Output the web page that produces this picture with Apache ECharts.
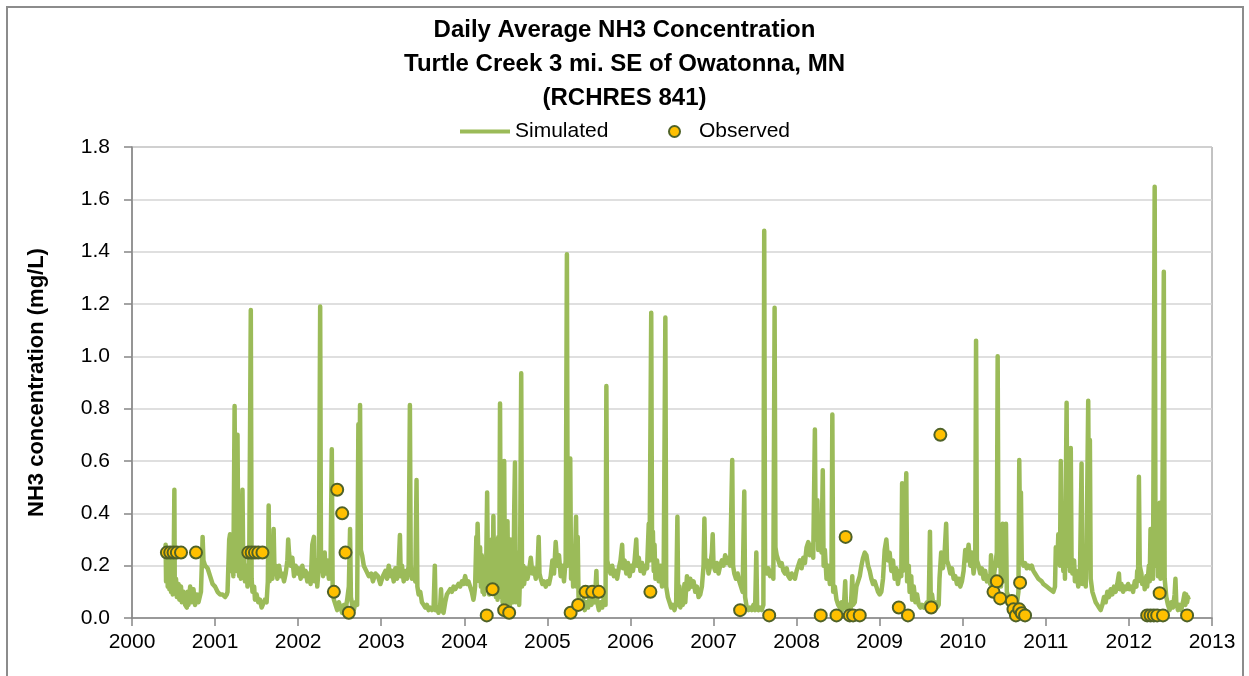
<!DOCTYPE html>
<html>
<head>
<meta charset="utf-8">
<script src="https://cdn.jsdelivr.net/npm/echarts@6/dist/echarts.min.js"></script>
<style>
  html, body { margin: 0; padding: 0; background: #ffffff; }
  #chart { width: 1249px; height: 676px; }
</style>
</head>
<body>
<div id="chart"></div>
<script>
// Simulated daily NH3 (mg/L), as [decimal year, value] pairs, grouped by period
const sim2000 = [[2000.40,0.25],[2000.405,0.28],[2000.41,0.14],[2000.42,0.26],[2000.43,0.12],[2000.44,0.25],[2000.45,0.11],[2000.46,0.22],[2000.47,0.10],[2000.48,0.18],[2000.49,0.09],[2000.50,0.14],[2000.51,0.49],[2000.515,0.10],[2000.53,0.15],[2000.54,0.08],[2000.56,0.13],[2000.57,0.07],[2000.59,0.12],[2000.60,0.06],[2000.62,0.10],[2000.64,0.05],[2000.66,0.04],[2000.67,0.10],[2000.68,0.05],[2000.70,0.12],[2000.72,0.06],[2000.74,0.11],[2000.76,0.05],[2000.78,0.09],[2000.80,0.06],[2000.83,0.10],[2000.845,0.25],[2000.85,0.31],[2000.86,0.22],[2000.88,0.20],[2000.91,0.19],[2000.94,0.16],[2000.97,0.13],[2001.00,0.12],[2001.03,0.10],[2001.06,0.09],[2001.09,0.09],[2001.12,0.08],[2001.14,0.09]];
const sim2001 = [[2001.15,0.10],[2001.17,0.30],[2001.18,0.32],[2001.19,0.18],[2001.21,0.26],[2001.22,0.16],[2001.235,0.81],[2001.245,0.25],[2001.26,0.18],[2001.27,0.70],[2001.28,0.22],[2001.29,0.16],[2001.30,0.26],[2001.31,0.15],[2001.33,0.49],[2001.34,0.18],[2001.35,0.24],[2001.36,0.14],[2001.38,0.20],[2001.39,0.12],[2001.41,0.16],[2001.43,1.177],[2001.44,0.15],[2001.45,0.10],[2001.47,0.12],[2001.48,0.07],[2001.50,0.09],[2001.52,0.06],[2001.54,0.07],[2001.56,0.04],[2001.58,0.04],[2001.60,0.07],[2001.62,0.06],[2001.635,0.14],[2001.645,0.43],[2001.655,0.14],[2001.67,0.22],[2001.69,0.15],[2001.705,0.34],[2001.715,0.18],[2001.73,0.20],[2001.75,0.15],[2001.77,0.20],[2001.79,0.16],[2001.81,0.17],[2001.83,0.14],[2001.85,0.17],[2001.87,0.22],[2001.88,0.30],[2001.89,0.25],[2001.91,0.20],[2001.93,0.23],[2001.95,0.16],[2001.97,0.20],[2001.99,0.17],[2002.01,0.19],[2002.03,0.15],[2002.05,0.20],[2002.07,0.16],[2002.09,0.18],[2002.11,0.14],[2002.13,0.17],[2002.15,0.13],[2002.17,0.28]];
const sim2002 = [[2002.19,0.31],[2002.20,0.14],[2002.22,0.22],[2002.23,0.12],[2002.25,0.20],[2002.265,1.19],[2002.275,0.18],[2002.29,0.24],[2002.30,0.16],[2002.32,0.25],[2002.33,0.17],[2002.35,0.22],[2002.37,0.15],[2002.39,0.20],[2002.405,0.645],[2002.415,0.12],[2002.43,0.07],[2002.45,0.05],[2002.47,0.03],[2002.49,0.06],[2002.51,0.04],[2002.53,0.02],[2002.55,0.05],[2002.57,0.03],[2002.59,0.07],[2002.61,0.12],[2002.625,0.34],[2002.635,0.08],[2002.65,0.05],[2002.67,0.03],[2002.69,0.06],[2002.71,0.05],[2002.725,0.74],[2002.735,0.30],[2002.745,0.814],[2002.755,0.26],[2002.77,0.24],[2002.79,0.20],[2002.82,0.18],[2002.85,0.16],[2002.88,0.17],[2002.90,0.14],[2002.93,0.17],[2002.96,0.16],[2002.99,0.13],[2003.02,0.16],[2003.05,0.18],[2003.07,0.15],[2003.09,0.20],[2003.11,0.16],[2003.13,0.18],[2003.15,0.14],[2003.17,0.19],[2003.19,0.15]];
const sim2003 = [[2003.21,0.20],[2003.225,0.317],[2003.235,0.16],[2003.25,0.20],[2003.27,0.14],[2003.29,0.18],[2003.31,0.15],[2003.33,0.20],[2003.345,0.814],[2003.355,0.20],[2003.37,0.15],[2003.39,0.18],[2003.41,0.14],[2003.425,0.527],[2003.435,0.12],[2003.45,0.09],[2003.47,0.10],[2003.49,0.06],[2003.51,0.05],[2003.53,0.04],[2003.55,0.05],[2003.57,0.03],[2003.59,0.04],[2003.61,0.03],[2003.63,0.04],[2003.645,0.20],[2003.655,0.03],[2003.67,0.04],[2003.69,0.02],[2003.71,0.05],[2003.72,0.11],[2003.73,0.03],[2003.75,0.02],[2003.77,0.06],[2003.79,0.09],[2003.81,0.10],[2003.83,0.11],[2003.85,0.10],[2003.87,0.12],[2003.89,0.11],[2003.91,0.12],[2003.93,0.13],[2003.95,0.12],[2003.97,0.14],[2003.99,0.13],[2004.01,0.16],[2004.03,0.13],[2004.05,0.14],[2004.07,0.12],[2004.09,0.10],[2004.11,0.07],[2004.12,0.09]];
const sim2004 = [[2004.13,0.12],[2004.145,0.31],[2004.15,0.20],[2004.16,0.36],[2004.17,0.22],[2004.18,0.14],[2004.19,0.27],[2004.20,0.12],[2004.21,0.24],[2004.22,0.10],[2004.23,0.22],[2004.24,0.09],[2004.25,0.20],[2004.26,0.12],[2004.275,0.48],[2004.285,0.14],[2004.29,0.26],[2004.30,0.09],[2004.31,0.22],[2004.32,0.10],[2004.33,0.30],[2004.34,0.12],[2004.35,0.39],[2004.36,0.10],[2004.37,0.30],[2004.38,0.08],[2004.39,0.24],[2004.40,0.07],[2004.41,0.31],[2004.42,0.08],[2004.43,0.82],[2004.44,0.10],[2004.45,0.30],[2004.46,0.06],[2004.47,0.40],[2004.48,0.60],[2004.49,0.08],[2004.50,0.30],[2004.51,0.06],[2004.52,0.37],[2004.53,0.07],[2004.54,0.25],[2004.55,0.05],[2004.56,0.30],[2004.57,0.06],[2004.58,0.20],[2004.59,0.06],[2004.60,0.40],[2004.61,0.594],[2004.62,0.06],[2004.63,0.20],[2004.64,0.07],[2004.65,0.25],[2004.66,0.05],[2004.67,0.15],[2004.685,0.935],[2004.695,0.12],[2004.71,0.20],[2004.72,0.13],[2004.74,0.19],[2004.76,0.15],[2004.78,0.18],[2004.80,0.23],[2004.82,0.17],[2004.84,0.19],[2004.86,0.15],[2004.88,0.18],[2004.895,0.31],[2004.905,0.17],[2004.92,0.15],[2004.94,0.13],[2004.96,0.14],[2004.98,0.12],[2005.00,0.14],[2005.02,0.13],[2005.04,0.16],[2005.06,0.22],[2005.08,0.17],[2005.10,0.29],[2005.12,0.20],[2005.14,0.24],[2005.16,0.16],[2005.18,0.20],[2005.20,0.14],[2005.22,0.22]];
const sim2005 = [[2005.235,1.39],[2005.245,0.20],[2005.26,0.28],[2005.275,0.61],[2005.285,0.15],[2005.30,0.22],[2005.31,0.12],[2005.33,0.20],[2005.345,0.387],[2005.355,0.12],[2005.365,0.31],[2005.375,0.08],[2005.39,0.06],[2005.41,0.04],[2005.43,0.07],[2005.45,0.03],[2005.47,0.06],[2005.49,0.04],[2005.51,0.08],[2005.53,0.05],[2005.55,0.07],[2005.57,0.06],[2005.59,0.18],[2005.60,0.06],[2005.62,0.03],[2005.64,0.06],[2005.66,0.04],[2005.68,0.08],[2005.70,0.05],[2005.71,0.887],[2005.72,0.22],[2005.74,0.19],[2005.76,0.17],[2005.78,0.20],[2005.80,0.16],[2005.82,0.18],[2005.84,0.15],[2005.86,0.19],[2005.88,0.22],[2005.90,0.28],[2005.91,0.19],[2005.93,0.22],[2005.95,0.17],[2005.97,0.21],[2005.99,0.16],[2006.01,0.20],[2006.03,0.18],[2006.05,0.22],[2006.07,0.30],[2006.08,0.20],[2006.10,0.23],[2006.12,0.18],[2006.14,0.21],[2006.16,0.17],[2006.18,0.20],[2006.20,0.19],[2006.22,0.36],[2006.23,0.22]];
const sim2006 = [[2006.25,1.167],[2006.26,0.25],[2006.27,0.33],[2006.28,0.18],[2006.29,0.28],[2006.30,0.15],[2006.32,0.22],[2006.34,0.14],[2006.36,0.20],[2006.38,0.12],[2006.40,0.18],[2006.42,1.148],[2006.43,0.12],[2006.45,0.08],[2006.47,0.06],[2006.49,0.04],[2006.51,0.05],[2006.53,0.03],[2006.55,0.06],[2006.565,0.387],[2006.575,0.05],[2006.59,0.12],[2006.60,0.04],[2006.62,0.10],[2006.63,0.05],[2006.65,0.13],[2006.66,0.06],[2006.68,0.16],[2006.70,0.11],[2006.72,0.15],[2006.74,0.12],[2006.76,0.14],[2006.78,0.10],[2006.80,0.12],[2006.82,0.08],[2006.84,0.09],[2006.86,0.12],[2006.88,0.20],[2006.89,0.38],[2006.90,0.20],[2006.92,0.22],[2006.94,0.17],[2006.96,0.20],[2006.98,0.25],[2006.99,0.32],[2007.00,0.20],[2007.02,0.18],[2007.04,0.21],[2007.06,0.17],[2007.08,0.20],[2007.10,0.22],[2007.12,0.20],[2007.14,0.24],[2007.16,0.21],[2007.18,0.23],[2007.20,0.20]];
const sim2007 = [[2007.225,0.604],[2007.235,0.20],[2007.25,0.17],[2007.27,0.15],[2007.29,0.17],[2007.31,0.14],[2007.33,0.12],[2007.35,0.10],[2007.37,0.483],[2007.38,0.08],[2007.40,0.04],[2007.42,0.03],[2007.44,0.04],[2007.46,0.03],[2007.48,0.05],[2007.50,0.03],[2007.515,0.25],[2007.525,0.04],[2007.54,0.03],[2007.56,0.04],[2007.58,0.03],[2007.60,0.05],[2007.61,1.48],[2007.62,0.20],[2007.64,0.17],[2007.66,0.19],[2007.68,0.16],[2007.70,0.18],[2007.72,0.15],[2007.735,1.186],[2007.745,0.27],[2007.76,0.24],[2007.78,0.22],[2007.80,0.20],[2007.82,0.21],[2007.84,0.18],[2007.86,0.17],[2007.88,0.19],[2007.90,0.16],[2007.92,0.15],[2007.94,0.17],[2007.96,0.16],[2007.98,0.15],[2008.00,0.18],[2008.02,0.20],[2008.04,0.22],[2008.06,0.19],[2008.08,0.23],[2008.10,0.21],[2008.12,0.27],[2008.14,0.29],[2008.16,0.24],[2008.18,0.28],[2008.20,0.23]];
const sim2008 = [[2008.22,0.72],[2008.23,0.30],[2008.25,0.45],[2008.26,0.26],[2008.28,0.30],[2008.30,0.25],[2008.315,0.565],[2008.325,0.20],[2008.34,0.26],[2008.36,0.15],[2008.38,0.20],[2008.40,0.13],[2008.42,0.18],[2008.43,0.778],[2008.44,0.10],[2008.46,0.12],[2008.48,0.07],[2008.50,0.05],[2008.52,0.04],[2008.54,0.06],[2008.55,0.03],[2008.57,0.05],[2008.585,0.14],[2008.595,0.04],[2008.61,0.03],[2008.63,0.05],[2008.65,0.03],[2008.66,0.09],[2008.67,0.16],[2008.68,0.05],[2008.70,0.06],[2008.72,0.12],[2008.74,0.14],[2008.76,0.16],[2008.78,0.20],[2008.80,0.23],[2008.82,0.25],[2008.84,0.24],[2008.86,0.20],[2008.88,0.18],[2008.90,0.15],[2008.92,0.13],[2008.94,0.14],[2008.96,0.12],[2008.98,0.10],[2009.00,0.09],[2009.02,0.10],[2009.04,0.15],[2009.06,0.26],[2009.08,0.30],[2009.10,0.22],[2009.12,0.25],[2009.14,0.18],[2009.16,0.22],[2009.18,0.15],[2009.20,0.19],[2009.22,0.13],[2009.24,0.18],[2009.26,0.16]];
const sim2009 = [[2009.27,0.515],[2009.28,0.18],[2009.30,0.25],[2009.32,0.553],[2009.33,0.14],[2009.35,0.20],[2009.36,0.10],[2009.38,0.16],[2009.39,0.07],[2009.41,0.12],[2009.43,0.06],[2009.45,0.09],[2009.47,0.05],[2009.49,0.04],[2009.51,0.05],[2009.53,0.04],[2009.55,0.04],[2009.57,0.06],[2009.59,0.05],[2009.605,0.33],[2009.615,0.06],[2009.63,0.09],[2009.65,0.04],[2009.67,0.06],[2009.69,0.04],[2009.71,0.05],[2009.72,0.15],[2009.74,0.25],[2009.76,0.19],[2009.78,0.24],[2009.80,0.36],[2009.81,0.22],[2009.83,0.20],[2009.85,0.17],[2009.87,0.19],[2009.89,0.15],[2009.91,0.16],[2009.93,0.13],[2009.95,0.15],[2009.97,0.12],[2009.99,0.14],[2010.01,0.18],[2010.03,0.26],[2010.05,0.22],[2010.07,0.28],[2010.09,0.20],[2010.11,0.25],[2010.13,0.17],[2010.15,0.22]];
const sim2010 = [[2010.16,1.06],[2010.17,0.22],[2010.19,0.20],[2010.21,0.17],[2010.23,0.19],[2010.25,0.15],[2010.27,0.18],[2010.29,0.14],[2010.31,0.16],[2010.33,0.13],[2010.34,0.24],[2010.35,0.12],[2010.37,0.15],[2010.39,0.20],[2010.41,0.25],[2010.42,1.00],[2010.43,0.20],[2010.45,0.30],[2010.46,0.12],[2010.48,0.36],[2010.49,0.14],[2010.51,0.30],[2010.52,0.36],[2010.53,0.10],[2010.55,0.08],[2010.57,0.05],[2010.59,0.03],[2010.61,0.04],[2010.63,0.03],[2010.65,0.05],[2010.67,0.10],[2010.68,0.604],[2010.69,0.30],[2010.70,0.48],[2010.71,0.22],[2010.73,0.20],[2010.75,0.21],[2010.77,0.19],[2010.79,0.20],[2010.81,0.19],[2010.83,0.20],[2010.85,0.18],[2010.87,0.17],[2010.89,0.16],[2010.91,0.15],[2010.93,0.15],[2010.95,0.14],[2010.97,0.13],[2010.99,0.13],[2011.01,0.12],[2011.03,0.12],[2011.05,0.11],[2011.07,0.11],[2011.09,0.10],[2011.10,0.10]];
const sim2011 = [[2011.11,0.12],[2011.12,0.27],[2011.14,0.22],[2011.15,0.32],[2011.17,0.20],[2011.18,0.60],[2011.19,0.25],[2011.20,0.40],[2011.21,0.18],[2011.22,0.30],[2011.23,0.15],[2011.25,0.823],[2011.26,0.20],[2011.28,0.30],[2011.29,0.18],[2011.30,0.65],[2011.31,0.20],[2011.32,0.17],[2011.34,0.22],[2011.35,0.14],[2011.37,0.18],[2011.39,0.12],[2011.41,0.15],[2011.43,0.59],[2011.44,0.13],[2011.46,0.20],[2011.48,0.12],[2011.49,0.25],[2011.51,0.83],[2011.52,0.30],[2011.53,0.68],[2011.54,0.15],[2011.56,0.10],[2011.58,0.08],[2011.60,0.06],[2011.62,0.05],[2011.64,0.04],[2011.66,0.03],[2011.68,0.05],[2011.70,0.08],[2011.72,0.06],[2011.74,0.10],[2011.76,0.08],[2011.78,0.11],[2011.80,0.09],[2011.82,0.12],[2011.84,0.10],[2011.86,0.13],[2011.88,0.17],[2011.89,0.11],[2011.91,0.13],[2011.93,0.10],[2011.95,0.12],[2011.97,0.11],[2011.99,0.13],[2012.01,0.11],[2012.03,0.12],[2012.05,0.10],[2012.07,0.14],[2012.09,0.12]];
const sim2012 = [[2012.10,0.18],[2012.11,0.14],[2012.12,0.54],[2012.13,0.20],[2012.15,0.17],[2012.16,0.13],[2012.18,0.15],[2012.19,0.11],[2012.21,0.16],[2012.22,0.12],[2012.24,0.20],[2012.25,0.14],[2012.26,0.34],[2012.27,0.18],[2012.28,0.25],[2012.29,0.15],[2012.31,1.648],[2012.32,0.20],[2012.34,0.30],[2012.35,0.16],[2012.37,0.44],[2012.38,0.15],[2012.40,0.25],[2012.42,1.323],[2012.43,0.15],[2012.45,0.08],[2012.47,0.05],[2012.49,0.03],[2012.51,0.06],[2012.53,0.04],[2012.55,0.09],[2012.56,0.15],[2012.57,0.06],[2012.59,0.03],[2012.61,0.05],[2012.63,0.03],[2012.65,0.06],[2012.67,0.094],[2012.68,0.05],[2012.69,0.09],[2012.70,0.06],[2012.71,0.08],[2012.72,0.07]];

// Observed grab samples (mg/L)
const obsYears = [2000.42,2000.46,2000.50,2000.54,2000.59,2000.77,
  2001.40,2001.44,2001.48,2001.52,2001.57,
  2002.43,2002.47,2002.53,2002.57,2002.61,
  2004.27,2004.34,2004.48,2004.54,
  2005.28,2005.37,2005.46,2005.54,2005.62,
  2006.24,
  2007.32,2007.67,
  2008.29,2008.48,2008.59,2008.64,2008.68,2008.76,
  2009.23,2009.34,2009.62,2009.73,
  2010.37,2010.41,2010.45,2010.59,2010.61,2010.64,2010.68,2010.69,2010.71,2010.75,
  2012.22,2012.26,2012.30,2012.34,2012.37,2012.41,2012.70];
const obsValues = [0.25,0.25,0.25,0.25,0.25,0.25,
  0.25,0.25,0.25,0.25,0.25,
  0.10,0.49,0.40,0.25,0.02,
  0.01,0.11,0.03,0.02,
  0.02,0.05,0.10,0.10,0.10,
  0.10,
  0.03,0.01,
  0.01,0.01,0.31,0.01,0.01,0.01,
  0.04,0.01,0.04,0.70,
  0.10,0.14,0.075,0.065,0.033,0.01,0.033,0.135,0.018,0.01,
  0.01,0.01,0.01,0.01,0.095,0.01,0.01];

const yearTicks = [2000, 2013];
const concTicks = [0, 1.8, 0.2];

const simulated = [].concat(sim2000, sim2001, sim2002, sim2003, sim2004, sim2005,
  sim2006, sim2007, sim2008, sim2009, sim2010, sim2011, sim2012);
const observed = obsYears.map((t, i) => [t, obsValues[i]]);

const FONT = "'Liberation Sans Narrow', 'Arial Narrow', 'Liberation Sans', Arial, sans-serif";
const GREEN = '#9BBB59';
const AXIS = '#868686';

const chart = echarts.init(document.getElementById('chart'), null, { renderer: 'canvas' });
chart.setOption({
  animation: false,
  backgroundColor: '#ffffff',
  textStyle: { fontFamily: FONT },
  graphic: [{
    type: 'rect',
    shape: { x: 7, y: 7, width: 1236, height: 690 },
    style: { fill: 'none', stroke: '#8c8c8c', lineWidth: 2 },
    silent: true
  }],
  title: {
    text: 'Daily Average NH3 Concentration\nTurtle Creek 3 mi. SE of Owatonna, MN\n(RCHRES 841)',
    left: 'center',
    top: 8,
    textStyle: { fontFamily: FONT, fontWeight: 'bold', fontSize: 24, lineHeight: 34, color: '#000' }
  },
  legend: [{
    data: ['Simulated'],
    left: 455, top: 116,
    itemWidth: 50, itemHeight: 4, itemGap: 6,
    icon: 'rect',
    textStyle: { fontFamily: FONT, fontSize: 21, color: '#000' }
  }, {
    data: ['Observed'],
    left: 663, top: 116,
    itemWidth: 11, itemHeight: 11, itemGap: 16,
    icon: 'circle',
    textStyle: { fontFamily: FONT, fontSize: 21, color: '#000', padding: [0, 0, 0, 14] }
  }],
  grid: { left: 132, top: 147, width: 1080, height: 471, show: true, borderColor: AXIS, borderWidth: 1 },
  xAxis: {
    type: 'value',
    min: yearTicks[0], max: yearTicks[1], interval: 1,
    axisLine: { show: true, lineStyle: { color: AXIS, width: 1.5 } },
    axisTick: { show: true, inside: false, length: 8, lineStyle: { color: AXIS, width: 1.5 } },
    axisLabel: { margin: 14, fontSize: 21, color: '#000', fontFamily: FONT, formatter: v => String(v) },
    splitLine: { show: false }
  },
  yAxis: {
    type: 'value',
    min: concTicks[0], max: concTicks[1], interval: concTicks[2],
    name: 'NH3 concentration (mg/L)',
    nameLocation: 'middle', nameRotate: 90, nameGap: 84,
    nameTextStyle: { fontFamily: FONT, fontWeight: 'bold', fontSize: 22, color: '#000' },
    axisLine: { show: true, lineStyle: { color: AXIS, width: 1.5 } },
    axisTick: { show: true, inside: false, length: 8, lineStyle: { color: AXIS, width: 1.5 } },
    axisLabel: { margin: 22, fontSize: 21, color: '#000', fontFamily: FONT, formatter: v => v.toFixed(1) },
    splitLine: { show: true, lineStyle: { color: '#d4d4d4', width: 1.5 } }
  },
  series: [{
    name: 'Simulated',
    type: 'line',
    data: simulated,
    showSymbol: false,
    symbol: 'none',
    lineStyle: { color: GREEN, width: 4.5, join: 'round' },
    itemStyle: { color: GREEN },
    z: 2
  }, {
    name: 'Observed',
    type: 'scatter',
    data: observed,
    symbol: 'circle',
    symbolSize: 12,
    itemStyle: { color: '#FFC000', borderColor: '#4F6228', borderWidth: 2, opacity: 1 },
    z: 3
  }]
});
</script>
</body>
</html>
